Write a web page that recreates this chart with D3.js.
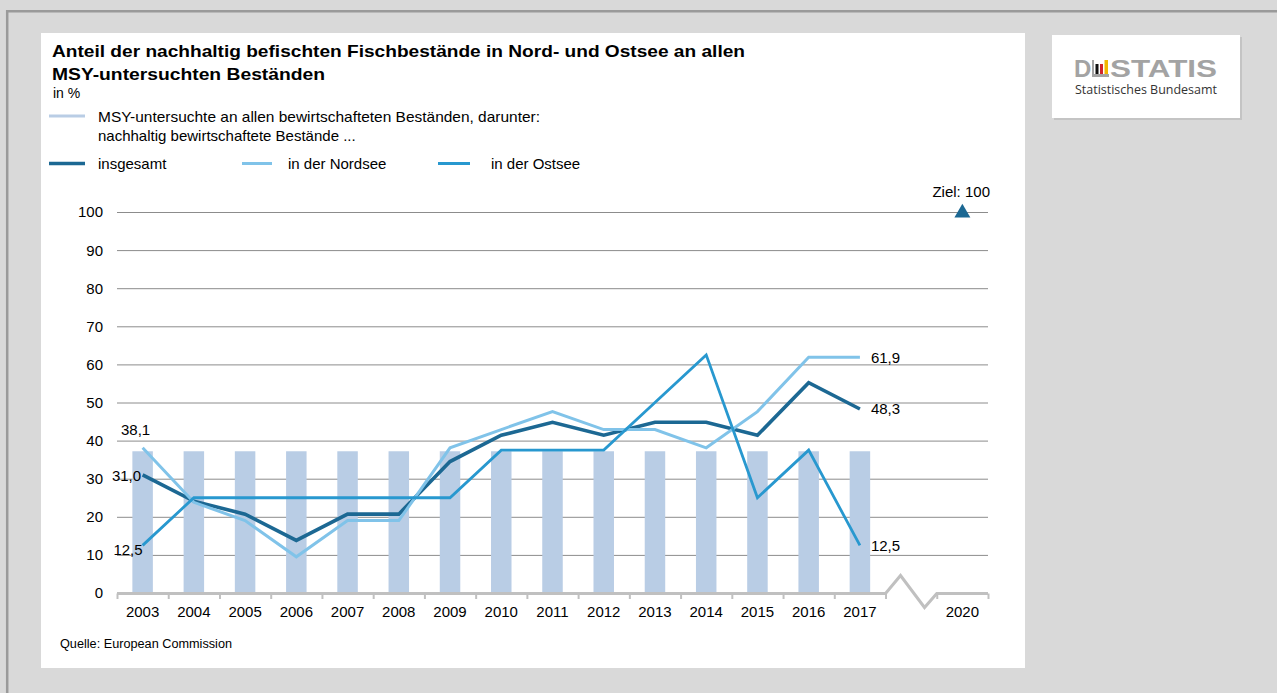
<!DOCTYPE html>
<html><head><meta charset="utf-8">
<script src="https://cdn.jsdelivr.net/npm/d3@7"></script>
<style>
html,body{margin:0;padding:0;background:#d9d9d9;}
svg{display:block;font-family:"Liberation Sans",Arial,sans-serif;}
</style></head>
<body>
<svg id="chart" width="1277" height="693"></svg>
<script>
// ---- data ----
const years = ["2003","2004","2005","2006","2007","2008","2009","2010","2011","2012","2013","2014","2015","2016","2017"];
const xSlots = years.concat(["gap","2020"]);
const msyShare = [37.2,37.2,37.2,37.2,37.2,37.2,37.2,37.2,37.2,37.2,37.2,37.2,37.2,37.2,37.2];
const insgesamt = [31.0,24.1,20.7,13.8,20.7,20.7,34.5,41.4,44.8,41.4,44.8,44.8,41.4,55.2,48.3];
const nordsee   = [38.1,23.8,19.0,9.5,19.0,19.0,38.1,42.9,47.6,42.9,42.9,38.1,47.6,61.9,61.9];
const ostsee    = [12.5,25,25,25,25,25,25,37.5,37.5,37.5,50,62.5,25,37.5,12.5];
const yTicks = [0,10,20,30,40,50,60,70,80,90,100];
const target = {year:"2020", value:100, label:"Ziel: 100"};

const C = {bar:"#b9cde5", ins:"#1c6893", nord:"#80c3e9", ost:"#2898cf", grid:"#8c8c8c", axis:"#c0c0c0"};
const FS = 15;

const svg = d3.select("#chart");

// frame
svg.append("rect").attr("x",0).attr("y",0).attr("width",1277).attr("height",693).attr("fill","#d9d9d9");
svg.append("path").attr("d","M7.2,693 V11.2 H1277").attr("fill","none").attr("stroke","#9a9a9a").attr("stroke-width",2.5);
svg.append("rect").attr("x",41).attr("y",33).attr("width",984).attr("height",635).attr("fill","#fff");

// logo box
svg.append("rect").attr("x",1054).attr("y",37).attr("width",188).attr("height",83).attr("fill","#c4c4c4");
svg.append("rect").attr("x",1052).attr("y",35).attr("width",188).attr("height",83).attr("fill","#fff");
const lg = svg.append("g");
lg.append("text").attr("x",1074).attr("y",77).attr("font-size",24).attr("font-weight","bold").attr("fill","#a3a3a3").text("D");
lg.append("rect").attr("x",1092).attr("y",74).attr("width",17).attr("height",3).attr("fill","#a3a3a3");
lg.append("rect").attr("x",1092).attr("y",60).attr("width",2).attr("height",17).attr("fill","#a3a3a3");
lg.append("rect").attr("x",1095.5).attr("y",64).attr("width",3).attr("height",10).attr("fill","#111");
lg.append("rect").attr("x",1100).attr("y",64).attr("width",3).attr("height",10).attr("fill","#d2232a");
lg.append("rect").attr("x",1104.5).attr("y",60).attr("width",3.5).attr("height",14).attr("fill","#f2b600");
lg.append("text").attr("x",1110).attr("y",77).attr("font-size",24).attr("font-weight","bold").attr("fill","#a3a3a3")
  .attr("textLength",107).attr("lengthAdjust","spacingAndGlyphs").text("STATIS");
lg.append("text").attr("x",1075).attr("y",94).attr("font-size",13).attr("fill","#333")
  .attr("font-family","'Open Sans','DejaVu Sans',sans-serif")
  .attr("textLength",142).attr("lengthAdjust","spacingAndGlyphs").text("Statistisches Bundesamt");

// title
svg.append("text").attr("x",52).attr("y",57).attr("font-size",17).attr("font-weight","bold").attr("fill","#000")
  .attr("textLength",693).attr("lengthAdjust","spacingAndGlyphs")
  .text("Anteil der nachhaltig befischten Fischbestände in Nord- und Ostsee an allen");
svg.append("text").attr("x",52).attr("y",80).attr("font-size",17).attr("font-weight","bold").attr("fill","#000")
  .attr("textLength",273).attr("lengthAdjust","spacingAndGlyphs")
  .text("MSY-untersuchten Beständen");
svg.append("text").attr("x",53).attr("y",98).attr("font-size",14).attr("fill","#000").text("in %");

// legend
const leg = svg.append("g").attr("font-size",FS).attr("fill","#000");
leg.append("line").attr("x1",49).attr("x2",85).attr("y1",116).attr("y2",116).attr("stroke",C.bar).attr("stroke-width",3);
leg.append("text").attr("x",98).attr("y",122).attr("textLength",442).attr("lengthAdjust","spacingAndGlyphs")
  .text("MSY-untersuchte an allen bewirtschafteten Beständen, darunter:");
leg.append("text").attr("x",98).attr("y",141).text("nachhaltig bewirtschaftete Bestände ...");
const legItems = [
  {label:"insgesamt", color:C.ins, x1:49, x2:85, tx:98, w:3.5},
  {label:"in der Nordsee", color:C.nord, x1:242, x2:272, tx:288, w:3},
  {label:"in der Ostsee", color:C.ost, x1:438, x2:470, tx:491, w:3}
];
legItems.forEach(d=>{
  leg.append("line").attr("x1",d.x1).attr("x2",d.x2).attr("y1",163.5).attr("y2",163.5).attr("stroke",d.color).attr("stroke-width",d.w);
  leg.append("text").attr("x",d.tx).attr("y",168.5).text(d.label);
});

// scales
const x = d3.scaleBand().domain(xSlots).range([117,988]).padding(0);
const y = d3.scaleLinear().domain([0,100]).range([593,212]);
const cx = d => x(d) + x.bandwidth()/2;

// grid
svg.append("g").selectAll("line").data(yTicks.filter(t=>t>0)).join("line")
  .attr("x1",117).attr("x2",988).attr("y1",d=>y(d)+0.5).attr("y2",d=>y(d)+0.5)
  .attr("stroke",C.grid).attr("stroke-width",1);
svg.append("g").selectAll("text").data(yTicks).join("text")
  .attr("x",103).attr("y",d=>y(d)).attr("dy","0.36em").attr("text-anchor","end")
  .attr("font-size",FS).attr("fill","#000").text(d=>d);

// bars
const bw = x.bandwidth()*0.4;
svg.append("g").selectAll("rect").data(years).join("rect")
  .attr("x",(d)=>cx(d)-bw/2).attr("width",bw)
  .attr("y",(d,i)=>y(msyShare[i])).attr("height",(d,i)=>y(0)-y(msyShare[i]))
  .attr("fill",C.bar);

// x axis with break
const axisY = y(0)+0.5;
const bStart = x("gap"), bEnd = x("2020");
svg.append("path")
  .attr("d",`M${x("2003")},${axisY} H${bStart} L${bStart+15},${axisY-18} L${bStart+39},${axisY+14} L${bEnd},${axisY} H${x("2020")+x.bandwidth()}`)
  .attr("fill","none").attr("stroke",C.axis).attr("stroke-width",3).attr("stroke-linejoin","miter");
const tickPos = years.map(d=>x(d)).concat([bStart, bEnd, bEnd + x.bandwidth()]);
svg.append("g").selectAll("line").data(tickPos).join("line")
  .attr("x1",d=>d+0.5).attr("x2",d=>d+0.5).attr("y1",axisY).attr("y2",axisY+5.5)
  .attr("stroke",C.axis).attr("stroke-width",2);
svg.append("g").selectAll("text").data(years.concat(["2020"])).join("text")
  .attr("x",d=>cx(d)).attr("y",617).attr("text-anchor","middle")
  .attr("font-size",FS).attr("fill","#000").text(d=>d);

// lines
const line = d3.line().x((d,i)=>cx(years[i])).y(d=>y(d));
[[insgesamt,C.ins,3.6],[nordsee,C.nord,3],[ostsee,C.ost,2.8]].forEach(([data,col,w])=>{
  svg.append("path").attr("d",line(data)).attr("fill","none").attr("stroke",col)
    .attr("stroke-width",w).attr("stroke-linejoin","miter");
});

// data labels
const fmt = v => d3.format(".1f")(v).replace(".",",");
const first = years[0], last = years[years.length-1];
const lab = svg.append("g").attr("font-size",FS).attr("fill","#000");
lab.append("text").attr("x",cx(first)-7).attr("y",y(nordsee[0])-13).attr("text-anchor","middle").text(fmt(nordsee[0]));
lab.append("text").attr("x",cx(first)-1.5).attr("y",y(insgesamt[0])+6).attr("text-anchor","end").text(fmt(insgesamt[0]));
lab.append("text").attr("x",cx(first)).attr("y",y(ostsee[0])+9.6).attr("text-anchor","end").text(fmt(ostsee[0]));
[nordsee,insgesamt,ostsee].forEach(data=>{
  lab.append("text").attr("x",cx(last)+11).attr("y",y(data[data.length-1])).attr("dy","0.36em").text(fmt(data[data.length-1]));
});

// target
const tx = cx(target.year), ty = y(target.value);
svg.append("path").attr("d",d3.symbol().type(d3.symbolTriangle).size(110)()).attr("transform",`translate(${tx},${ty+1})`).attr("fill",C.ins);
svg.append("text").attr("x",990).attr("y",197).attr("text-anchor","end").attr("font-size",FS).attr("fill","#000").text(target.label);

// source
svg.append("text").attr("x",60).attr("y",648).attr("font-size",12.5).attr("fill","#000")
  .attr("textLength",172).attr("lengthAdjust","spacingAndGlyphs").text("Quelle: European Commission");
</script>
</body></html>
